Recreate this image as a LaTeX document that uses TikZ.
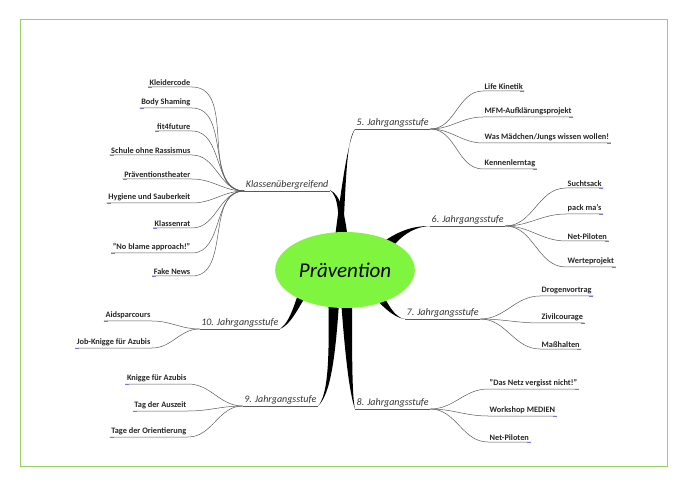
\documentclass[tikz,border=0pt]{standalone}
\usepackage{fontspec}
\setmainfont{Carlito}
\usetikzlibrary{calc, shapes.geometric}
\newcommand\leaffont{\bfseries\fontsize{8.3}{10}\selectfont}
\newcommand\stagefont{\itshape\fontsize{10}{12}\selectfont}
\definecolor{frame}{RGB}{150,210,100}
\definecolor{blob}{RGB}{128,245,64}
\definecolor{tick}{RGB}{120,120,220}

\begin{document}
\begin{tikzpicture}[
    x = 1pt, y = -1pt,
    leaf/.style = {font=\leaffont, inner sep=1.5pt, text=black!85},
    stage/.style = {font=\stagefont, inner sep=1.5pt, text=black!80},
    twig/.style = {draw=black!65, line width=0.5pt},
    trunk/.style = {fill=black}
  ]
  \useasboundingbox (0,0) rectangle (688,486);
  \draw[frame, line width=1pt] (20,20) rectangle (667,466);

  % trunks
  \fill[trunk] (342,262) .. controls (346,170) and (347,140) .. (355,129)
    .. controls (349,140) and (343,170) .. (332,262) -- cycle;
  \fill[trunk] (350,262) .. controls (346,210) and (340,195) .. (330,190)
    .. controls (338,197) and (340,210) .. (338,262) -- cycle;
  \fill[trunk] (372,250) .. controls (395,232) and (410,226) .. (430,226)
    .. controls (410,227) and (395,240) .. (382,262) -- cycle;
  \fill[trunk] (378,285) .. controls (388,305) and (395,318) .. (405,319)
    .. controls (393,318) and (382,305) .. (368,292) -- cycle;
  \fill[trunk] (352,285) .. controls (352,360) and (352,395) .. (355,409)
    .. controls (350,395) and (345,360) .. (340,285) -- cycle;
  \fill[trunk] (340,285) .. controls (336,360) and (330,395) .. (318,406)
    .. controls (328,395) and (330,360) .. (328,285) -- cycle;
  \fill[trunk] (318,280) .. controls (300,300) and (295,322) .. (280,329)
    .. controls (292,320) and (295,300) .. (306,272) -- cycle;

  \node[draw=none, fill=blob, ellipse, minimum width=118pt, minimum height=76pt,
        font=\itshape\fontsize{21}{24}\selectfont] (center) at (345,270) {Prävention};

  % stages
  \node[stage, anchor=south east] (ku) at (330,191) {Klassenübergreifend};
  \node[stage, anchor=south west] (j5) at (355,129) {5. Jahrgangsstufe};
  \node[stage, anchor=south west] (j6) at (430,226) {6. Jahrgangsstufe};
  \node[stage, anchor=south west] (j7) at (405,319) {7. Jahrgangsstufe};
  \node[stage, anchor=south west] (j8) at (355,409) {8. Jahrgangsstufe};
  \node[stage, anchor=south east] (j9) at (318,406) {9. Jahrgangsstufe};
  \node[stage, anchor=south east] (j10) at (280,329) {10. Jahrgangsstufe};
  \foreach \s in {ku, j5, j6, j7, j8, j9, j10}
    \draw[twig] (\s.south west) -- (\s.south east);

  % left leaves
  \foreach \n/\y/\t in {k1/87/{Kleidercode}, k2/108/{Body Shaming}, k3/131/{fit4future},
      k4/155/{Schule ohne Rassismus}, k5/179/{Präventionstheater},
      k6/203/{Hygiene und Sauberkeit}, k7/228/{Klassenrat},
      k8/253/{"No blame approach!"}, k9/276/{Fake News}} {
    \node[leaf, anchor=south east] (\n) at (192,\y) {\t};
    \draw[twig] (\n.south west) -- (\n.south east) to[out=0, in=180] (ku.south west);
    \draw[tick] (\n.south west) -- +(4,0);
  }
  \foreach \n/\y/\t in {n1/384/{Knigge für Azubis}, n2/411/{Tag der Auszeit},
      n3/437/{Tage der Orientierung}} {
    \node[leaf, anchor=south east] (\n) at (188,\y) {\t};
    \draw[twig] (\n.south west) -- (\n.south east) to[out=0, in=180] (j9.south west);
    \draw[tick] (\n.south west) -- +(4,0);
  }
  \foreach \n/\y/\t in {z1/321/{Aidsparcours}, z2/348/{Job-Knigge für Azubis}} {
    \node[leaf, anchor=south east] (\n) at (152,\y) {\t};
    \draw[twig] (\n.south west) -- (\n.south east) to[out=0, in=180] (j10.south west);
    \draw[tick] (\n.south west) -- +(4,0);
  }

  % right leaves
  \foreach \n/\y/\t in {f1/91/{Life Kinetik}, f2/117/{MFM-Aufklärungsprojekt},
      f3/143/{Was Mädchen/Jungs wissen wollen!}, f4/169/{Kennenlerntag}} {
    \node[leaf, anchor=south west] (\n) at (483,\y) {\t};
    \draw[twig] (j5.south east) to[out=0, in=180] (\n.south west) -- (\n.south east);
    \draw[tick] (\n.south east) -- +(-4,0);
  }
  \foreach \n/\y/\t in {s1/188/{Suchtsack}, s2/214/{pack ma's}, s3/241/{Net-Piloten},
      s4/267/{Werteprojekt}} {
    \node[leaf, anchor=south west] (\n) at (566,\y) {\t};
    \draw[twig] (j6.south east) to[out=0, in=180] (\n.south west) -- (\n.south east);
    \draw[tick] (\n.south east) -- +(-4,0);
  }
  \foreach \n/\y/\t in {v1/296/{Drogenvortrag}, v2/323/{Zivilcourage}, v3/349/{Maßhalten}} {
    \node[leaf, anchor=south west] (\n) at (540,\y) {\t};
    \draw[twig] (j7.south east) to[out=0, in=180] (\n.south west) -- (\n.south east);
    \draw[tick] (\n.south east) -- +(-4,0);
  }
  \foreach \n/\y/\t in {a1/389/{"Das Netz vergisst nicht!"}, a2/416/{Workshop MEDIEN},
      a3/442/{Net-Piloten}} {
    \node[leaf, anchor=south west] (\n) at (488,\y) {\t};
    \draw[twig] (j8.south east) to[out=0, in=180] (\n.south west) -- (\n.south east);
    \draw[tick] (\n.south east) -- +(-4,0);
  }
\end{tikzpicture}
\end{document}
